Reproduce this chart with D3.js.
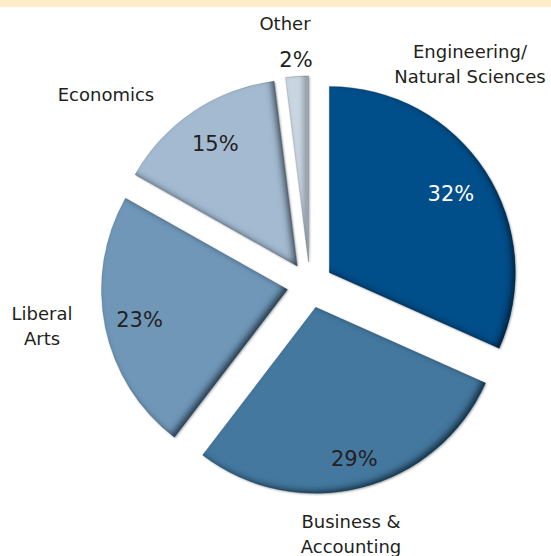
<!DOCTYPE html>
<html>
<head>
<meta charset="utf-8">
<script src="https://cdn.jsdelivr.net/npm/d3@7"></script>
<style>
  html, body { margin: 0; padding: 0; background: #ffffff; }
  svg { display: block; }
  text { font-family: "DejaVu Sans", Tahoma, Verdana, sans-serif; font-size: 18px; fill: #231f20; }
  text.pct { font-size: 21px; }
</style>
</head>
<body>
<svg id="chart" width="551" height="556"></svg>
<script>
// Share of graduates by field of study (percent)
const categories = ["Engineering/Natural Sciences", "Business & Accounting", "Liberal Arts", "Economics", "Other"];
const values = [32, 29, 23, 15, 2];
const percentLabels = ["32%", "29%", "23%", "15%", "2%"];
const colors = ["#02508a", "#44789f", "#7097b8", "#a3bad0", "#c9d5e1"];

const W = 551, H = 556;
const cx = 310, cy = 285;       // pie centre
const radius = 186;
const explode = 23;             // every slice pulled out from the centre

const svg = d3.select("#chart");

// pale band along the top edge
svg.append("rect").attr("x", 0).attr("y", 0).attr("width", W).attr("height", 7).attr("fill", "#ffedc8");

const defs = svg.append("defs");

// inner shadow along the lower-right edges of each slice, plus a faint outer halo
const f = defs.append("filter").attr("id", "bevel")
  .attr("x", "-15%").attr("y", "-15%").attr("width", "130%").attr("height", "130%");
f.append("feComponentTransfer").attr("in", "SourceAlpha").attr("result", "inv")
  .append("feFuncA").attr("type", "table").attr("tableValues", "1 0");
f.append("feOffset").attr("in", "inv").attr("dx", -4).attr("dy", -3).attr("result", "off");
f.append("feGaussianBlur").attr("in", "off").attr("stdDeviation", 3.4).attr("result", "blur");
f.append("feFlood").attr("flood-color", "#06182b").attr("flood-opacity", 0.9).attr("result", "col");
f.append("feComposite").attr("in", "col").attr("in2", "blur").attr("operator", "in").attr("result", "shadow");
f.append("feComposite").attr("in", "shadow").attr("in2", "SourceAlpha").attr("operator", "in").attr("result", "inner");
f.append("feGaussianBlur").attr("in", "SourceAlpha").attr("stdDeviation", 1.2).attr("result", "halo0");
f.append("feOffset").attr("in", "halo0").attr("dx", 1).attr("dy", 1).attr("result", "halo1");
f.append("feComponentTransfer").attr("in", "halo1").attr("result", "halo")
  .append("feFuncA").attr("type", "linear").attr("slope", 0.35);
const m = f.append("feMerge");
m.append("feMergeNode").attr("in", "halo");
m.append("feMergeNode").attr("in", "SourceGraphic");
m.append("feMergeNode").attr("in", "inner");

const pie = d3.pie().sort(null).value(d => d)(values);
const arc = d3.arc().innerRadius(0).outerRadius(radius);

const g = svg.append("g").attr("transform", `translate(${cx},${cy})`);

function offset(d, dist) {
  const a = (d.startAngle + d.endAngle) / 2;
  return [dist * Math.sin(a), -dist * Math.cos(a)];
}

g.selectAll("path.slice")
  .data(pie)
  .join("path")
  .attr("class", "slice")
  .attr("d", arc)
  .attr("fill", (d, i) => colors[i])
  .attr("stroke", "rgba(20,40,60,0.25)")
  .attr("stroke-width", 0.6)
  .attr("filter", "url(#bevel)")
  .attr("transform", d => {
    const [dx, dy] = offset(d, explode);
    return `translate(${dx},${dy})`;
  });

// percentage labels, placed along each slice's middle angle
const pctRadius = [168, 180, 174, 170, 225];
const pctColor = ["#ffffff", "#231f20", "#231f20", "#231f20", "#231f20"];
g.selectAll("text.pct")
  .data(pie)
  .join("text")
  .attr("class", "pct")
  .attr("text-anchor", "middle")
  .attr("dominant-baseline", "central")
  .attr("x", (d, i) => offset(d, pctRadius[i])[0])
  .attr("y", (d, i) => offset(d, pctRadius[i])[1])
  .style("fill", (d, i) => pctColor[i])
  .text((d, i) => percentLabels[i]);

// category names
const nameLines = [
  ["Engineering/", "Natural Sciences"],
  ["Business &", "Accounting"],
  ["Liberal", "Arts"],
  ["Economics"],
  ["Other"]
];
const nameAnchor = [[470, 58], [351, 528], [42, 320], [106, 101], [285, 30]];
nameLines.forEach((lines, i) => {
  const t = svg.append("text").attr("text-anchor", "middle")
    .attr("x", nameAnchor[i][0]).attr("y", nameAnchor[i][1]);
  lines.forEach((ln, j) => {
    t.append("tspan").attr("x", nameAnchor[i][0]).attr("dy", j === 0 ? 0 : 25).text(ln);
  });
});
</script>
</body>
</html>
